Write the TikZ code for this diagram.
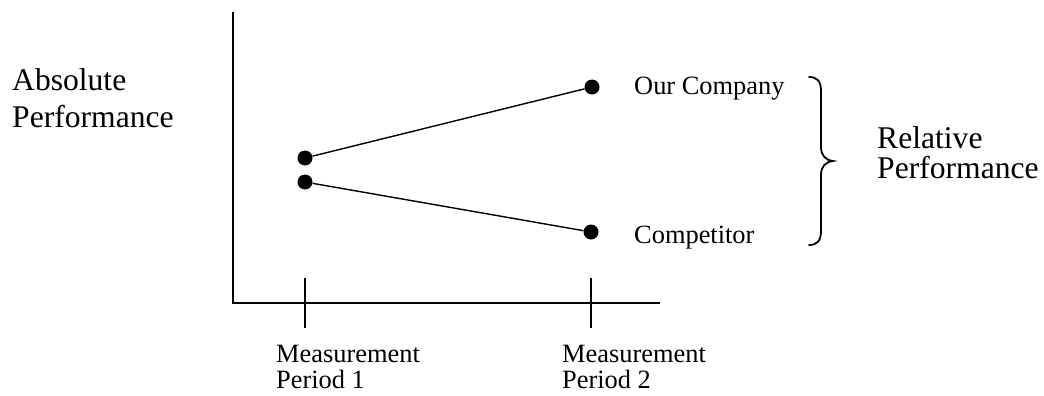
\documentclass[tikz,border=0pt]{standalone}
\usepackage{fontspec}
\setmainfont{Liberation Serif}
\begin{document}
\begin{tikzpicture}[x=1pt,y=-1pt,
  dot/.style={circle,fill=black,inner sep=0pt,minimum size=15pt},
  ax/.style={line width=1.4pt},
  conn/.style={line width=1.4pt},
  small/.style={anchor=base west,inner sep=0pt,font=\fontsize{26.4}{30}\selectfont},
  big/.style={anchor=base west,inner sep=0pt,font=\fontsize{31.6}{36}\selectfont}]
\useasboundingbox (0,0) rectangle (1044,396);
% axes
\coordinate (ytop) at (233,12);
\coordinate (orig) at (233,303);
\coordinate (xend) at (660,303);
\draw[ax] (ytop) -- (orig) -- (xend);
% ticks
\coordinate (t1a) at (305,278);
\coordinate (t1b) at (305,328);
\coordinate (t2a) at (591,278);
\coordinate (t2b) at (591,328);
\draw[ax] (t1a) -- (t1b);
\draw[ax] (t2a) -- (t2b);
% dots
\node[dot] (a1) at (305,158) {};
\node[dot] (b1) at (305,182) {};
\node[dot] (a2) at (592,87) {};
\node[dot] (b2) at (591,232) {};
\draw[conn] (a1) -- (a2);
\draw[conn] (b1) -- (b2);
% labels
\node[big] (abs1) at (12,91) {Absolute};
\node[big] (abs2) at (12,127) {Performance};
\node[small] (oc) at (634,95) {Our Company};
\node[small] (cp) at (634,243) {Competitor};
\node[small] (m1a) at (276,362) {Measurement};
\node[small] (m1b) at (276,388) {Period 1};
\node[small] (m2a) at (562,362) {Measurement};
\node[small] (m2b) at (562,388) {Period 2};
\node[big] (rp1) at (877,148) {Relative};
\node[big] (rp2) at (877,178) {Performance};
% brace
\coordinate (bt) at (809,77);
\coordinate (tip) at (833,161);
\coordinate (bb) at (809,245);
\draw[line width=1.8pt,line cap=round]
  (bt) .. controls (817,77) and (821,81) .. (821,91)
  -- (821,147) .. controls (821,155) and (825,160) .. (tip)
  .. controls (825,162) and (821,167) .. (821,175)
  -- (821,231) .. controls (821,241) and (817,245) .. (bb);
\end{tikzpicture}
\end{document}
